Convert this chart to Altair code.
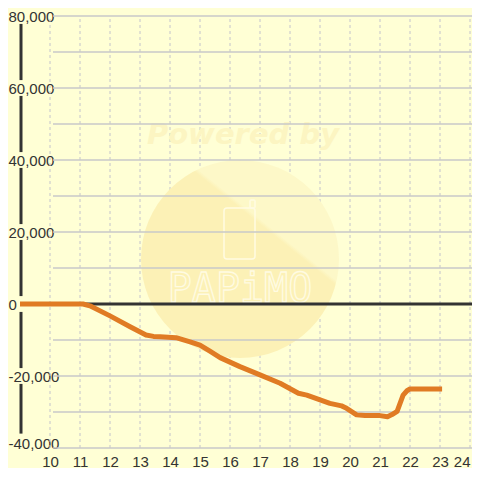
import altair as alt
import pandas as pd

# ---- data ----
hours = [9.0, 11.1, 11.33, 12.0, 12.67, 13.2, 13.45, 13.67, 14.2, 14.67, 15.0, 15.33,
         15.67, 16.33, 17.0, 17.67, 18.28, 18.56, 19.33, 19.72, 19.85, 20.22, 20.5,
         21.0, 21.25, 21.4, 21.57, 21.77, 21.9, 22.0, 22.5, 23.07]
profit = [0, 0, -500, -3300, -6300, -8600, -9000, -9100, -9350, -10500, -11400, -13100,
          -14900, -17400, -19700, -22000, -24800, -25300, -27600, -28300, -28800, -30800,
          -31000, -31000, -31300, -30700, -29800, -25300, -24100, -23600, -23600, -23600]
x_ticks = list(range(10, 25))
y_ticks = [-40000, -20000, 0, 20000, 40000, 60000, 80000]
y_grid = list(range(-40000, 80001, 10000))

BG = "#ffffd5"
TXT = "#333333"
X_MIN, X_MAX = 9.0, 9.0 + 452 / 30
Y_MIN, Y_MAX = -40000, 80000

xs = alt.Scale(domain=[X_MIN, X_MAX], nice=False, zero=False)
ys = alt.Scale(domain=[Y_MIN, Y_MAX], nice=False, zero=False)

xaxis = alt.Axis(values=x_ticks, title=None, domain=False, ticks=False, tickSize=0, grid=False,
                 labelFontSize=15, labelFont="Liberation Sans", labelColor=TXT,
                 labelPadding=6, labelFlush=3, labelOverlap=False, format="d")
yaxis = alt.Axis(values=y_ticks, title=None, domain=False, ticks=False, tickSize=0, grid=False,
                 labelFontSize=15, labelFont="Liberation Sans", labelColor=TXT,
                 labelAlign="left", labelPadding=12, labelOverlap=False, labelFlush=False,
                 labelBaseline={"condition": {"test": f"datum.value <= {Y_MIN}",
                                              "value": "alphabetic"},
                                "value": "middle"},
                 labelExpr="(datum.value < 0 ? '-' : '') + format(abs(datum.value), ',')")

line_df = pd.DataFrame({"x": hours, "y": profit})
hgrid_df = pd.DataFrame({"y": [v for v in y_grid if v != 0]})
hgrid_df["x"] = 10.1
hgrid_df["x2"] = X_MAX
vgrid_df = pd.DataFrame({"x": x_ticks})
vgrid_df["y"] = Y_MIN
vgrid_df["y2"] = Y_MAX
zero_df = pd.DataFrame({"x": [X_MIN], "x2": [X_MAX], "y": [0]})
seg_df = pd.DataFrame({"y": [v + 2200 for v in y_ticks[:-1]],
                       "y2": [v + 20000 - 2200 for v in y_ticks[:-1]]})
seg_df.loc[0, "y"] = Y_MIN + 4000
seg_df["x"] = X_MIN + 1 / 30

one = pd.DataFrame({"a": [0]})

X = lambda f="x": alt.X(f"{f}:Q", scale=xs, axis=xaxis)
Y = lambda f="y": alt.Y(f"{f}:Q", scale=ys, axis=yaxis)

# watermark (decoration)
grad = alt.Gradient(gradient="linear", x1=0.187, y1=0.889, x2=0.813, y2=0.11,
                    stops=[alt.GradientStop(color="#fcf1b6", offset=0),
                           alt.GradientStop(color="#fcf1b6", offset=0.70),
                           alt.GradientStop(color="#fdf8c8", offset=0.72),
                           alt.GradientStop(color="#fdf8c8", offset=1)])
wm_circle = alt.Chart(one).mark_circle(size=39204, color=grad, opacity=1).encode(
    x=alt.value(220), y=alt.value(243))
wm_powered = alt.Chart(one).mark_text(text="Powered by", font="DejaVu Sans", fontSize=29,
                                      fontWeight="bold", fontStyle="italic", color="#fcf5c2",
                                      align="center", baseline="middle").encode(
    x=alt.value(223), y=alt.value(119))
wm_phone = alt.Chart(one).mark_rect(cornerRadius=3, fillOpacity=0, stroke="#fffbe2",
                                    strokeWidth=1.5).encode(
    x=alt.value(204), x2=alt.value(235), y=alt.value(192), y2=alt.value(243))
wm_ant = alt.Chart(one).mark_rect(cornerRadius=1, fillOpacity=0, stroke="#fffbe2",
                                  strokeWidth=1.5).encode(
    x=alt.value(230), x2=alt.value(235), y=alt.value(184), y2=alt.value(192))
wm_papimo = alt.Chart(one).mark_text(text="PAPiMO", font="DejaVu Sans Mono", fontSize=40,
                                     fillOpacity=0, stroke="#fffbe2", strokeWidth=1.3,
                                     align="center", baseline="middle").encode(
    x=alt.value(220), y=alt.value(274))

vgrid = alt.Chart(vgrid_df).mark_rule(color="#c4c4cc", strokeWidth=1, strokeDash=[3, 3]).encode(
    x=X(), y=Y(), y2="y2:Q")
hgrid = alt.Chart(hgrid_df).mark_rule(color="#c8c8c8", strokeWidth=1.3).encode(
    x=X(), x2="x2:Q", y=Y())
zero = alt.Chart(zero_df).mark_rule(color=TXT, strokeWidth=3).encode(
    x=X(), x2="x2:Q", y=Y())
yline = alt.Chart(seg_df).mark_rule(color=TXT, strokeWidth=3).encode(
    x=X(), y=Y(), y2="y2:Q")
line = alt.Chart(line_df).mark_line(color="#e07b24", strokeWidth=5, strokeJoin="round").encode(
    x=X(), y=Y())

chart = alt.layer(vgrid, wm_circle, wm_powered, wm_phone, wm_ant, wm_papimo,
                  hgrid, zero, yline, line).properties(
    width=452, height=432,
    autosize=alt.AutoSizeParams(type="none"),
    padding={"left": 12, "top": 8, "right": 0, "bottom": 20},
    background=BG,
).configure_view(stroke=None)

chart.save("out.html", embed_options={"renderer": "svg", "actions": False})
